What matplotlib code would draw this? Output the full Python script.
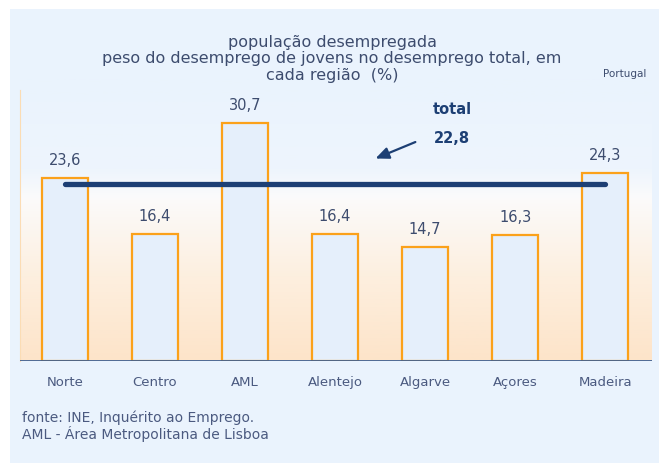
import numpy as np
import matplotlib.pyplot as plt
from matplotlib.colors import LinearSegmentedColormap

regioes = ['Norte', 'Centro', 'AML', 'Alentejo', 'Algarve', 'Açores', 'Madeira']
peso_jovens = [23.6, 16.4, 30.7, 16.4, 14.7, 16.3, 24.3]
total_portugal = 22.8
rotulos = ['23,6', '16,4', '30,7', '16,4', '14,7', '16,3', '24,3']

texto_cor = '#3d4c6e'
navy = '#1d3f74'
fonte = 'DejaVu Sans'

fig = plt.figure(figsize=(6.59, 4.64), dpi=100)
fig.patch.set_facecolor('white')
# light blue panel behind everything
painel = plt.Rectangle((10 / 659, 0), 1, 1 - 10 / 464, transform=fig.transFigure,
                       facecolor='#eaf3fd', edgecolor='none', zorder=-5)
fig.add_artist(painel)

ax = fig.add_axes([20 / 659, (464 - 362) / 464, 632 / 659, 282 / 464])
ax.set_zorder(1)
ax.patch.set_alpha(0)
ax.set_xlim(-0.5, 6.52)
ax.set_ylim(0, 36.4)

# peach (bottom) -> white -> panel blue (top)
grad = LinearSegmentedColormap.from_list(
    'g', [(0, '#fde4c9'), (0.3, '#fdefdf'), (0.58, '#fbfbfb'), (0.68, '#eef5fd'), (1, '#eaf3fd')])
ax.imshow(np.linspace(0, 1, 256).reshape(-1, 1), cmap=grad, aspect='auto',
          extent=[0, 1, 0, 1], transform=ax.transAxes, origin='lower', zorder=0)

x = np.arange(len(regioes))
ax.bar(x, peso_jovens, width=0.51, color='#e5effb', edgecolor='#fba11a', linewidth=1.6, zorder=2)

for xi, v, t in zip(x, peso_jovens, rotulos):
    ax.text(xi, v + 1.4, t, ha='center', va='bottom', fontsize=10.5, color=texto_cor,
            family=fonte)

# total line
ax.plot([0, 6], [total_portugal, total_portugal], color=navy, lw=3.8,
        solid_capstyle='round', zorder=3)
ax.annotate('', xy=(3.42, 26.0), xytext=(3.92, 28.4),
            arrowprops=dict(arrowstyle='-|>,head_length=0.8,head_width=0.35', color=navy, lw=1.6))
ax.text(4.3, 32.6, 'total', ha='center', va='center', fontsize=10.5, fontweight='bold',
        color=navy, family=fonte)
ax.text(4.3, 28.9, '22,8', ha='center', va='center', fontsize=10.5, fontweight='bold',
        color=navy, family=fonte)

ax.axhline(0, color='#3f5f90', lw=2, zorder=4)
ax.set_xticks([])
ax.set_yticks([])
for nome, s in ax.spines.items():
    s.set_visible(nome == 'left')
ax.spines['left'].set_color('#fbdcb4')
ax.spines['left'].set_bounds(0, 35)

for xi, r in zip(x, regioes):
    ax.text(xi, -2.7, r, ha='center', va='center', fontsize=9.5, color='#4b5a80',
            family=fonte)

fig.text(332 / 659, 1 - 59 / 464,
         'população desempregada\npeso do desemprego de jovens no desemprego total, em\ncada região  (%)',
         ha='center', va='center', fontsize=11.5, color=texto_cor, linespacing=1.15,
         family=fonte)
fig.text(625 / 659, 1 - 74 / 464, 'Portugal', ha='center', va='center', fontsize=7.5,
         color=texto_cor, family=fonte)
fig.text(22 / 659, 1 - 426 / 464, 'fonte: INE, Inquérito ao Emprego.\nAML - Área Metropolitana de Lisboa',
         ha='left', va='center', fontsize=10, color='#4b5a80', linespacing=1.05,
         family=fonte)

fig.savefig('out.png', dpi=100)
